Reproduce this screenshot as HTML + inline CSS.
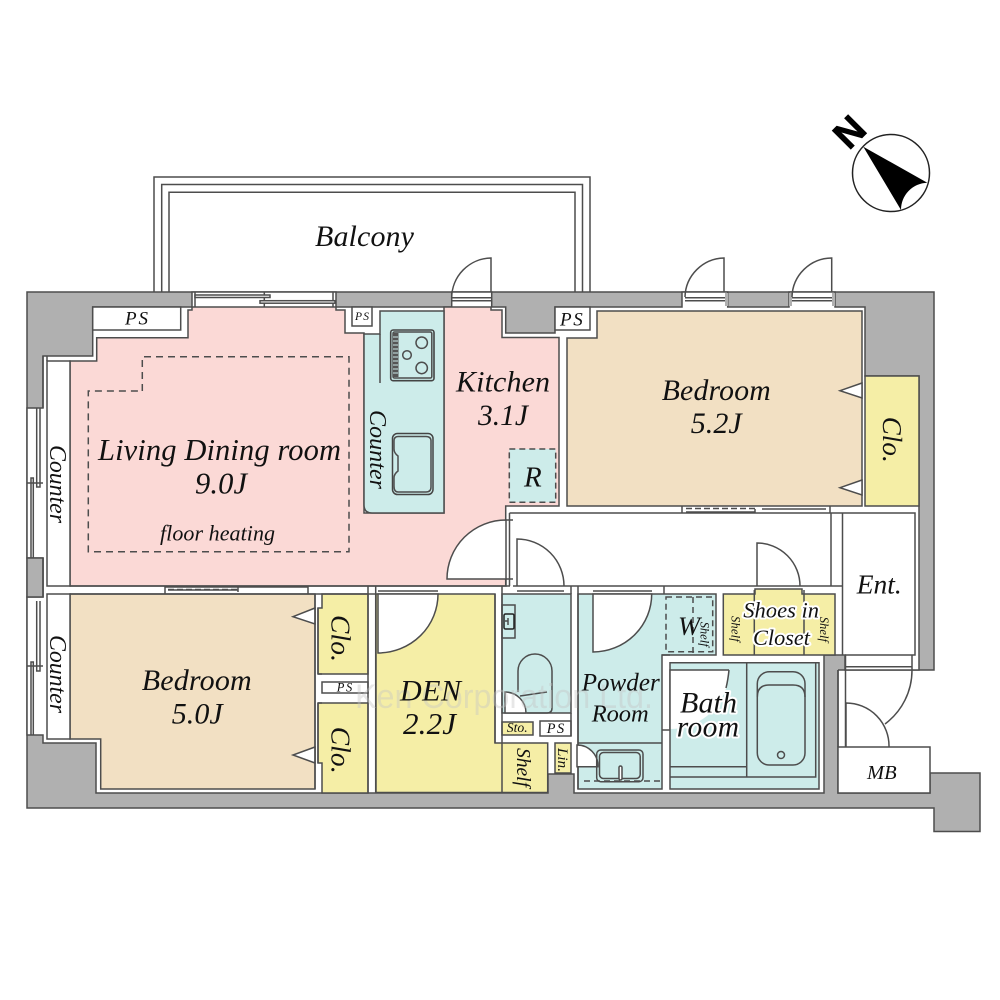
<!DOCTYPE html>
<html><head><meta charset="utf-8"><style>
html,body{margin:0;padding:0;background:#fff}
svg{display:block}
text{font-family:"Liberation Serif",serif;font-style:italic;fill:#111}
.h{paint-order:stroke;stroke:#fff;stroke-width:4px;stroke-linejoin:round}
.l{fill:none;stroke:#4d4d4d;stroke-width:1.5}
.r{stroke:#4d4d4d;stroke-width:1.5}
.w{fill:#fff;stroke:#4d4d4d;stroke-width:1.5}
.d{fill:none;stroke:#4d4d4d;stroke-width:1.5;stroke-dasharray:7 5}
.p{fill:#fbd9d6}.t{fill:#cdecea}.b{fill:#f2e0c3}.y{fill:#f5eea6}
</style></head><body>
<svg width="1000" height="1000" viewBox="0 0 1000 1000" xmlns="http://www.w3.org/2000/svg">
<!-- balcony -->
<path class="l" d="M154 292V177H590V292M161.700 292V184.500H582.500V292M169 292V192.300H575V292"/>
<!-- footprint -->
<path d="M27 292H934V670H838V793H930V773H980V831.500H934V808H27Z" fill="#b0b0b0" stroke="#4d4d4d" stroke-width="1.5"/>
<!-- interior -->
<path class="w" d="M92.700 307H192V292H336V307H451.700V292H491.700V307H505.700V333H555V307H682V292H725V292H727.700V307H789V292H835V307H865V376H919V670H845V655H824V793H574V774H548V793H96V743H43V735H27V597H43V558H27V408H43V356H92.700Z"/>
<path d="M725 293H728V306H725ZM789 293H792V306H789ZM832 293H835V306H832Z" fill="#b0b0b0"/>
<rect x="27" y="558" width="16" height="39" fill="#b0b0b0" stroke="#4d4d4d" stroke-width="1.5"/>
<rect x="827" y="656" width="11" height="14" fill="#b0b0b0"/>
<!-- rooms -->
<path class="p r" d="M70 361H96.700V337.700H188V310H192V307H336V310H345V333H364V513H444V307H451V307H491V310H502V337.500H559V506H505.700V579H506V586H70Z"/>
<path class="t r" d="M380 311H444V513H372Q364 513 364 505V334H380Z"/>
<path class="l" d="M380 334V383"/>
<path class="b r" d="M567 338H597V311H862V506H567Z"/>
<path class="y r" d="M865 376H919V506H865Z"/>
<path class="b r" d="M70 594H315V789H100.700V739H70Z"/>
<path class="y r" d="M322 594H368V674H318V608H322Z"/>
<path class="y r" d="M318 703H368V793H322V763H318Z"/>
<path class="y r" d="M376 594H495V743H547.700V792.500H376Z"/>
<path class="l" d="M502 743V792.500"/>
<path class="t r" d="M502 594H571V713H502Z"/>
<path class="y r" d="M502 722H533V735H502Z"/>
<path class="y r" d="M555 743H571V773H555Z"/>
<path class="t r" d="M578 594H716V655H662V789H578Z"/>
<path class="t r" d="M670 662.700H819V789H670Z"/>
<path class="y r" d="M723.300 594H755V589H802V594H835V655H723.300Z"/>
<!-- white boxes -->
<rect class="w" x="92.700" y="307" width="88" height="23"/>
<rect class="w" x="352" y="307" width="20" height="19"/>
<rect class="w" x="555" y="307" width="35" height="23"/>
<rect class="w" x="322" y="682" width="46" height="11"/>
<rect class="w" x="540" y="721" width="31" height="15"/>
<rect class="w" x="47" y="361" width="23" height="225"/>
<rect class="w" x="47" y="594" width="23" height="145"/>
<rect class="w" x="838" y="747" width="92" height="46"/>
<!-- walls -->
<path class="l" d="M509.500 513H915V655H912V670M505.700 520V586M509.500 513V586M831 513V586M842.500 513V655M513 586H842.500M505 579H513M505 520H513M845 655H912M845 666.700H912M838 670V747M845.500 655V747M70 586H510M70 594H376M662 655H670M662 730H670M664 594V586M571 586V594M578 586V594M375.700 586V594M502 586V594M578 594V789M571 713V736M502 594V743M495 594V743M318 674H322M318 703H322M368 586V793M375.700 594V793M43 356V408M43 558V597M47 361V356"/>
<path class="l" d="M378 591H438M517 591H564M593 591H652"/>
<!-- openings: top doors -->
<path class="l" d="M451.700 297.700H491.700M451.700 300.700H491.700M685 297.700H725M685 300.700H725M792 297.700H832M792 300.700H832"/>
<path class="l" d="M491 292V258A40 40 0 0 0 451.700 298M724 292V258A40 40 0 0 0 685 297M831.700 292V258A40 40 0 0 0 792 297"/>
<!-- top window -->
<path class="l" d="M195 292V307M333 292V307M264.300 292V307"/>
<rect class="w" x="195" y="295" width="75" height="2.500"/>
<rect class="w" x="260" y="300.700" width="75" height="2.500"/>
<!-- left windows -->
<path class="l" d="M36.700 408V487H40V408M31 558V478H33.300V558M27 483H43M36.700 601V671H40V601M31 735V662H33.300V735M27 666H43"/>
<!-- sliding doors -->
<path class="l" d="M165 594V587H308V594M168 590H238M238 587V592M308 586V594M682 513V506M830 513V506M686 512H755V509M762 509H826"/>
<path class="d" d="M168 589.500H238M686 508.500H755" style="stroke-dasharray:6 3"/>
<!-- door sectors -->
<path class="w" d="M506 579V520A59 59 0 0 0 447 579Z"/>
<path class="w" d="M378 594H438A60 59 0 0 1 378 653Z"/>
<path class="w" d="M593 594H651.700A59 58 0 0 1 593 652Z"/>
<path class="w" d="M505 713V692A21 21 0 0 1 526 713Z"/>
<path class="w" d="M577 745A21 21 0 0 1 598 766.700H577Z"/>
<path d="M670 670H729A59 59 0 0 1 670 729Z" fill="#fff"/>
<path class="l" d="M729 670H670V729M729 670Q728 680 726 688"/>
<path class="l" d="M517 586V539A47 47 0 0 1 564 586M757 586V543A43 43 0 0 1 800 586M912 670A67 67 0 0 1 885 724M846 747V703A43 43 0 0 1 889 747"/>
<!-- triangles -->
<path class="w" d="M862 383L840 390.700L862 398Z"/>
<path class="w" d="M862 480L840 487.700L862 495Z"/>
<path class="w" d="M315 608L293 616.700L315 624Z"/>
<path class="w" d="M315 747L293 755L315 763Z"/>
<path class="l" d="M315 594V789M318 608V674M318 703V763"/>
<!-- floor heating -->
<path class="d" d="M142.300 391V356.700H349V551.700H88.300V391H142.300"/>
<!-- R -->
<rect x="509.300" y="449" width="46.400" height="53.300" fill="#cdecea" stroke="#4d4d4d" stroke-width="1.5" stroke-dasharray="6 4"/>
<!-- stove -->
<rect x="390.700" y="330" width="43.300" height="50.700" rx="2.500" fill="none" stroke="#444" stroke-width="1.600"/>
<rect x="393" y="332" width="38.800" height="46" rx="1.500" class="l"/>
<rect x="392.500" y="333" width="6" height="44" fill="#555"/>
<path d="M393 337H398M393 341H398M393 345H398M393 349H398M393 353H398M393 357H398M393 361H398M393 365H398M393 369H398M393 373H398" stroke="#cdecea" stroke-width="1"/>
<circle class="l" cx="421.700" cy="342.700" r="5.700"/>
<circle class="l" cx="407" cy="355" r="4.300"/>
<circle class="l" cx="421.700" cy="368" r="5.700"/>
<!-- sink -->
<rect x="392.500" y="433.500" width="40.500" height="61" rx="5" class="l" style="stroke:#444"/>
<path class="l" d="M398 436.500H426Q431 436.500 431 441V487Q431 492 426 492H398Q394 492 394 486V478Q394 474 398 471V456Q394 453 394 449V441Q394 436.500 398 436.500Z"/>
<!-- toilet fixtures -->
<rect x="502" y="605" width="13" height="33" class="l"/>
<rect x="504" y="614" width="10" height="15" rx="1.500" fill="none" stroke="#222" stroke-width="1.500"/>
<path class="l" d="M508 618V625M505 621H508"/>
<path class="l" d="M518 692V671A17 17 0 0 1 552 671V708Q552 713 547 713H527M520 696L547 692"/>
<!-- basin -->
<rect x="596.700" y="750" width="46.300" height="31.700" rx="4" class="l"/>
<rect x="599.500" y="752.500" width="40.700" height="26" rx="4" class="l"/>
<rect x="619" y="766" width="3" height="14" rx="1.500" class="w"/>
<path class="d" d="M584 781H662" style="stroke-dasharray:6 4"/>
<path class="l" d="M578 743H662"/>
<!-- W closet -->
<path class="d" d="M666 597H712.700V651.700H666Z" style="stroke-dasharray:6 4"/>
<path class="d" d="M693 597V655" style="stroke-dasharray:6 4"/>
<!-- shoes -->
<path class="l" d="M754.300 590V655M804 590V655"/>
<!-- bath -->
<path class="l" d="M815.700 663V777H670M746.700 663V777M670 766.700H746.700"/>
<rect x="757.300" y="671.700" width="47.700" height="93.300" rx="12" class="l"/>
<path class="l" d="M757.300 697Q757.300 685 769 685H793Q805 685 805 697"/>
<circle class="l" cx="781" cy="755" r="3.500"/>
<!-- watermark -->
<text x="355" y="708" textLength="298" lengthAdjust="spacingAndGlyphs" style="font-family:'Liberation Sans',sans-serif;font-style:normal;font-size:34px;fill:#c4c4c4;opacity:.4">Ken Corporation Ltd.</text>
<!-- labels -->
<text x="315" y="246" textLength="99" font-size="30">Balcony</text>
<text x="98" y="460" textLength="243" font-size="30.500">Living Dining room</text>
<text x="195" y="493.300" textLength="52" font-size="30.500">9.0J</text>
<text x="160" y="540.700" textLength="115" font-size="22">floor heating</text>
<text x="456" y="391.700" textLength="94" font-size="30">Kitchen</text>
<text x="478" y="425" textLength="50" font-size="29.500">3.1J</text>
<text x="661.700" y="400" textLength="109" font-size="29.700">Bedroom</text>
<text x="690.700" y="433" textLength="51" font-size="30">5.2J</text>
<text transform="translate(883 416.700) rotate(90)" textLength="46" font-size="27">Clo.</text>
<text transform="translate(370 410) rotate(90)" textLength="79" font-size="24">Counter</text>
<text transform="translate(50 445) rotate(90)" textLength="78" font-size="23.800">Counter</text>
<text transform="translate(50 635) rotate(90)" textLength="78" font-size="23.800">Counter</text>
<text x="141.700" y="690" textLength="110" font-size="30">Bedroom</text>
<text x="171.700" y="723.300" textLength="51" font-size="30">5.0J</text>
<text transform="translate(331.700 615) rotate(90)" textLength="47" font-size="27.500">Clo.</text>
<text transform="translate(331.700 726.700) rotate(90)" textLength="47" font-size="27.500">Clo.</text>
<text x="336.700" y="691.700" textLength="15.500" font-size="12.500">PS</text>
<text x="400" y="700.700" textLength="61" font-size="30">DEN</text>
<text x="403" y="734" textLength="53" font-size="31">2.2J</text>
<text x="581.700" y="690.700" textLength="78" font-size="25">Powder</text>
<text x="591.700" y="721.700" textLength="57" font-size="24.500">Room</text>
<text x="506.700" y="732" textLength="21" font-size="13.700">Sto.</text>
<text x="546.700" y="733" textLength="17.500" font-size="14.300">PS</text>
<text transform="translate(517 748) rotate(90)" textLength="39" font-size="19.500">Shelf</text>
<text transform="translate(558 748) rotate(90)" textLength="24" font-size="15">Lin.</text>
<text x="856.700" y="593.300" textLength="45" font-size="27.500">Ent.</text>
<text x="867" y="779" textLength="29.700" font-size="20.500">MB</text>
<text class="h" x="680" y="712.700" textLength="57" font-size="30">Bath</text>
<text class="h" x="676.700" y="736.700" textLength="62.300" font-size="29.500">room</text>
<text class="h" x="743.300" y="617.300" textLength="75.700" font-size="22.500">Shoes in</text>
<text class="h" x="753" y="645" textLength="57" font-size="22.300">Closet</text>
<text x="678" y="635" textLength="22" font-size="26.500">W</text>
<text transform="translate(700.700 621.700) rotate(90)" textLength="25" font-size="12.500">Shelf</text>
<text transform="translate(731.700 616) rotate(90)" textLength="25.700" font-size="12.500">Shelf</text>
<text transform="translate(820 616.700) rotate(90)" textLength="25.300" font-size="12.500">Shelf</text>
<text x="125" y="324.300" textLength="23" font-size="19">PS</text>
<text x="355" y="320" textLength="14" font-size="11.500">PS</text>
<text x="560" y="325.700" textLength="22.700" font-size="19">PS</text>
<text x="524" y="486.700" textLength="17.700" font-size="29">R</text>
<!-- compass -->
<circle cx="891" cy="173" r="38.500" fill="#fff" stroke="#222" stroke-width="1.500"/>
<path d="M863.300 146.700L927.300 182.700A27 27 0 0 0 901 210Z" fill="#000"/>
<text transform="translate(849.500 132) rotate(-45)" x="0" y="13" text-anchor="middle" style="font-family:'Liberation Sans',sans-serif;font-style:normal;font-weight:bold;font-size:38px;fill:#000;stroke:#000;stroke-width:.8px">N</text>
</svg>
</body></html>
